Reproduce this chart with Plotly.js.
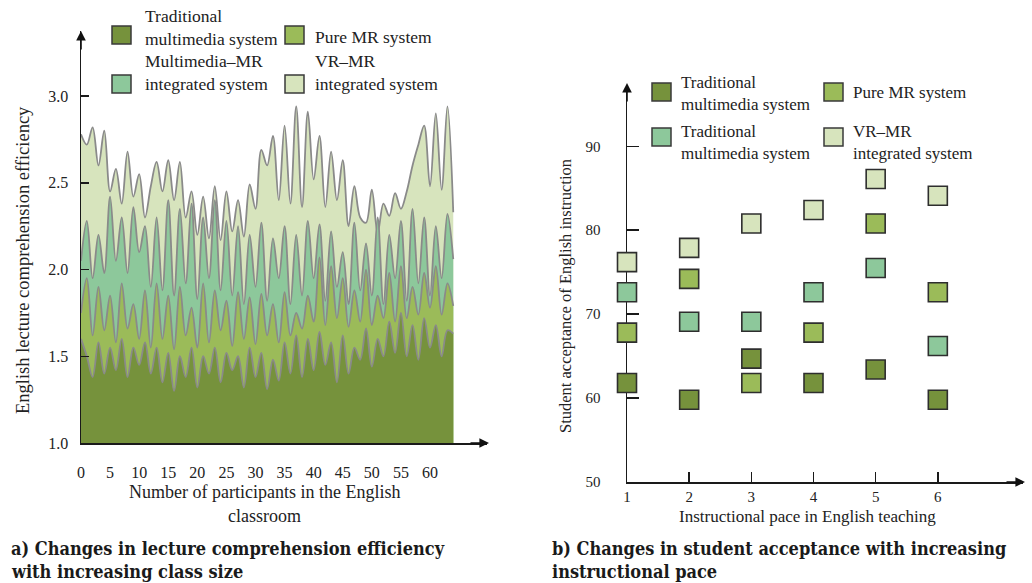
<!DOCTYPE html>
<html>
<head>
<meta charset="utf-8">
<script src="https://cdn.plot.ly/plotly-3.0.1.min.js"></script>
<style>
  html, body { margin: 0; padding: 0; background: #ffffff; }
  #chart { width: 1032px; height: 583px; }
</style>
</head>
<body>
<div id="chart"></div>
<script>
// ---------------- DATA ----------------
// (a) class size vs comprehension efficiency
const classSize = [0,1,2,3,4,5,6,7,8,9,10,11,12,13,14,15,16,17,18,19,20,21,22,23,24,25,26,27,28,29,30,31,32,33,34,35,36,37,38,39,40,41,42,43,44,45,46,47,48,49,50,51,52,53,54,55,56,57,58,59,60,61,62,63,64];
const vrMrEff = [2.78,2.72,2.82,2.60,2.80,2.45,2.58,2.38,2.68,2.42,2.55,2.30,2.48,2.62,2.45,2.63,2.40,2.62,2.30,2.45,2.20,2.42,2.18,2.48,2.17,2.45,2.22,2.40,2.19,2.49,2.35,2.69,2.60,2.77,2.40,2.83,2.38,2.94,2.36,2.91,2.52,2.77,2.36,2.68,2.40,2.63,2.25,2.48,2.30,2.27,2.46,2.21,2.38,2.31,2.44,2.35,2.45,2.60,2.72,2.83,2.48,2.90,2.46,2.94,2.33];
const mmMrEff = [2.05,2.28,1.95,2.20,1.98,2.42,2.05,2.30,1.98,2.36,2.10,2.25,1.90,2.30,1.88,2.40,1.85,2.35,1.92,2.38,1.83,2.30,1.95,2.40,1.88,2.28,1.85,2.25,1.80,2.20,1.90,2.27,1.82,2.18,1.95,2.25,1.80,2.20,1.85,2.28,1.95,2.26,1.82,2.22,1.90,2.10,1.80,2.27,1.88,2.15,1.85,2.30,1.80,2.20,1.95,2.28,1.82,2.35,1.92,2.30,1.85,2.25,1.95,2.32,2.06];
const pureMrEff = [1.75,1.95,1.62,1.90,1.65,1.85,1.58,1.92,1.66,1.80,1.60,1.88,1.55,1.92,1.60,1.85,1.54,1.90,1.62,1.78,1.55,1.92,1.58,1.88,1.65,1.82,1.56,1.87,1.60,1.84,1.57,1.86,1.62,1.80,1.58,1.87,1.62,1.75,1.66,1.85,1.70,2.07,1.68,2.02,1.72,1.95,1.67,1.88,1.70,2.00,1.68,1.85,1.72,1.98,1.70,2.02,1.72,1.90,1.74,1.98,1.78,2.02,1.74,1.92,1.79];
const tradEff = [1.60,1.50,1.38,1.58,1.40,1.55,1.42,1.60,1.38,1.55,1.45,1.58,1.40,1.55,1.35,1.52,1.30,1.50,1.38,1.55,1.32,1.50,1.40,1.55,1.35,1.52,1.42,1.50,1.32,1.55,1.38,1.52,1.31,1.48,1.36,1.58,1.40,1.62,1.38,1.60,1.42,1.64,1.45,1.58,1.35,1.62,1.40,1.55,1.48,1.66,1.44,1.60,1.50,1.70,1.52,1.75,1.50,1.68,1.48,1.72,1.55,1.68,1.50,1.65,1.63];
const effTicks = [1.0, 1.5, 2.0, 2.5, 3.0];
const sizeTicks = [0,5,10,15,20,25,30,35,40,45,50,55,60];

// (b) instructional pace vs student acceptance
const pace = [1, 2, 3, 4, 5, 6];
const tradAcc = [61.8, 59.8, 64.7, 61.8, 63.4, 59.8];
const pureMrAcc = [67.8, 74.2, 61.8, 67.8, 80.8, 72.6];
const tradAcc2 = [72.6, 69.1, 69.1, 72.6, 75.5, 66.2];
const vrMrAcc = [76.2, 77.9, 80.8, 82.4, 86.1, 84.1];
const accTicks = [50, 60, 70, 80, 90];

const namesA = ['Traditional<br>multimedia system', 'Pure MR system', 'Multimedia–MR<br>integrated system', 'VR–MR<br>integrated system'];
const namesB = ['Traditional<br>multimedia system', 'Pure MR system', 'Traditional<br>multimedia system', 'VR–MR<br>integrated system'];
const colors = ['#76923c', '#9bbb59', '#8dc89b', '#d7e4bd'];

// ---------------- LAYOUT HELPERS ----------------
const W = 1032, H = 583;
const fx = p => p / W;
const fy = p => 1 - p / H;
const SERIF = '"Liberation Serif", "Times New Roman", serif';

const seriesA = [tradEff, pureMrEff, mmMrEff, vrMrEff];
const seriesB = [tradAcc, pureMrAcc, tradAcc2, vrMrAcc];

const traces = [];
// back-to-front: lightest first
for (let i = 3; i >= 0; i--) {
  traces.push({
    type: 'scatter', mode: 'lines', x: classSize, y: seriesA[i],
    name: namesA[i], fill: 'tozeroy', fillcolor: colors[i],
    line: { color: '#8a8a8a', width: 1.8, shape: 'spline', smoothing: 1 },
    xaxis: 'x', yaxis: 'y', showlegend: false, hoverinfo: 'skip'
  });
}
for (let i = 0; i < 4; i++) {
  traces.push({
    type: 'scatter', mode: 'markers', x: pace, y: seriesB[i],
    name: namesB[i], cliponaxis: false,
    marker: { symbol: 'square', size: 19, color: colors[i], line: { color: '#2e2e2e', width: 1.6 } },
    xaxis: 'x2', yaxis: 'y2', showlegend: false
  });
}

const shapes = [];
const annotations = [];

// manual legends (layout positions in px)
const legA = [
  { bx: 112, by: 26, tx: 143, ty: 27.5 },
  { bx: 285, by: 26, tx: 313, ty: 37 },
  { bx: 112, by: 75, tx: 143, ty: 72.5 },
  { bx: 285, by: 75, tx: 313, ty: 72.5 }
];
const legB = [
  { bx: 652, by: 83, tx: 679, ty: 93 },
  { bx: 824, by: 83, tx: 851, ty: 92.5 },
  { bx: 652, by: 128, tx: 679, ty: 142.5 },
  { bx: 824, by: 128, tx: 851, ty: 142.5 }
];
function addLegend(items, names, fs) {
  items.forEach((it, i) => {
    shapes.push({ type: 'rect', xref: 'paper', yref: 'paper',
      x0: fx(it.bx), x1: fx(it.bx + 19), y0: fy(it.by + 18), y1: fy(it.by),
      fillcolor: colors[i], line: { color: '#3a3a3a', width: 1.5 } });
    annotations.push({ xref: 'paper', yref: 'paper', x: fx(it.tx), y: fy(it.ty),
      xanchor: 'left', yanchor: 'middle', align: 'left', showarrow: false,
      text: names[i], font: { family: SERIF, size: fs, color: '#222' } });
  });
}
addLegend(legA, namesA, 17.5);
addLegend(legB, namesB, 17);

// axis arrows
function arrow(xp, yp, ax, ay) {
  annotations.push({ xref: 'paper', yref: 'paper', x: fx(xp), y: fy(yp), ax: ax, ay: ay,
    text: '', showarrow: true, arrowhead: 2, arrowsize: 1.2, arrowwidth: 1.6, arrowcolor: '#111' });
}
arrow(81, 31, 0, 20);
arrow(489, 443, -20, 0);
arrow(627, 83, 0, 20);
arrow(1025, 482, -20, 0);

// axis titles
function txt(xp, yp, text, size, extra) {
  annotations.push(Object.assign({ xref: 'paper', yref: 'paper', x: fx(xp), y: fy(yp),
    xanchor: 'center', yanchor: 'middle', showarrow: false, text: text,
    font: { family: SERIF, size: size, color: '#222' } }, extra || {}));
}
txt(23, 260, 'English lecture comprehension efficiency', 18.5, { textangle: -90 });
txt(264, 492, 'Number of participants in the English', 18);
txt(264, 516, 'classroom', 18);
txt(565, 296, 'Student acceptance of English instruction', 16.5, { textangle: -90 });
txt(807, 516, 'Instructional pace in English teaching', 17);

// captions
const CAP = { family: '"DejaVu Serif Condensed", "DejaVu Serif", serif', size: 18, color: '#1a1a1a', weight: 700 };
function cap(xp, yp, text) {
  annotations.push({ xref: 'paper', yref: 'paper', x: fx(xp), y: fy(yp), xanchor: 'left', yanchor: 'middle',
    showarrow: false, text: '<b>' + text + '</b>', font: CAP });
}
cap(9, 548, 'a) Changes in lecture comprehension efficiency');
cap(9, 571, 'with increasing class size');
cap(550, 548, 'b) Changes in student acceptance with increasing');
cap(550, 571, 'instructional pace');

const axBase = { showgrid: false, zeroline: false, showline: true, linecolor: '#1a1a1a', linewidth: 1.5,
  tickcolor: '#1a1a1a', tickwidth: 1.5, tickfont: { family: SERIF, size: 16, color: '#222' } };

const layout = {
  width: W, height: H,
  margin: { l: 0, r: 0, t: 0, b: 0 },
  paper_bgcolor: '#ffffff', plot_bgcolor: 'rgba(0,0,0,0)',
  showlegend: false,
  xaxis: Object.assign({}, axBase, { domain: [fx(81), fx(487)], range: [0, 69.8], anchor: 'y',
    tickvals: sizeTicks, ticks: '', ticklabelstandoff: 14 }),
  yaxis: Object.assign({}, axBase, { domain: [fy(443), fy(31)], range: [1, 3.375], anchor: 'x',
    tickvals: effTicks, tickformat: '.1f', ticks: 'inside', ticklen: 8, ticklabelstandoff: 8 }),
  xaxis2: Object.assign({}, axBase, { domain: [fx(627), fx(1023)], range: [1, 7.37], anchor: 'y2',
    tickvals: pace, ticks: 'inside', ticklen: 10, ticklabelstandoff: 0,
    tickfont: { family: SERIF, size: 15, color: '#222' } }),
  yaxis2: Object.assign({}, axBase, { domain: [fy(482), fy(85)], range: [50, 97.3], anchor: 'x2',
    tickvals: accTicks, ticks: 'inside', ticklen: 12, ticklabelstandoff: 22, layer: 'below traces',
    tickfont: { family: SERIF, size: 15, color: '#222' } }),
  shapes: shapes,
  annotations: annotations
};

Plotly.newPlot('chart', traces, layout, { staticPlot: true, displayModeBar: false });
</script>
</body>
</html>
